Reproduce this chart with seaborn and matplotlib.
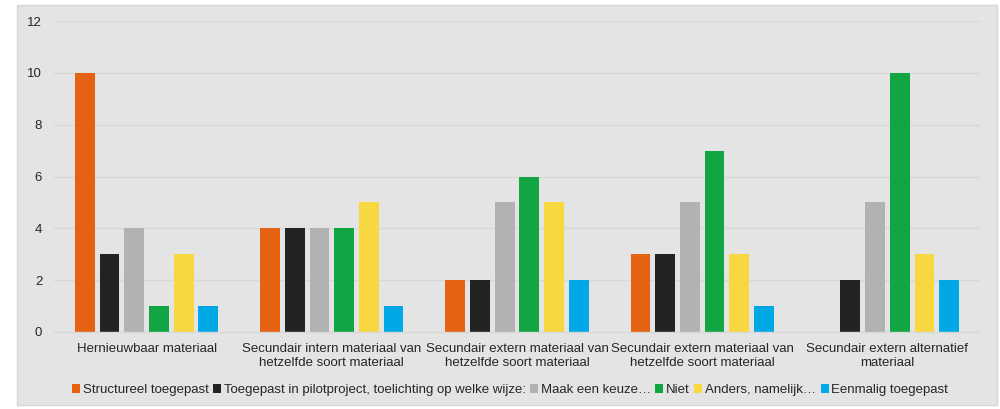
import matplotlib
matplotlib.use("Agg")
import matplotlib.pyplot as plt
import seaborn as sns
import pandas as pd
from matplotlib.patches import Rectangle

categories = [
    "Hernieuwbaar materiaal",
    "Secundair intern materiaal van\nhetzelfde soort materiaal",
    "Secundair extern materiaal van\nhetzelfde soort materiaal",
    "Secundair extern materiaal van\nhetzelfde soort materiaal",
    "Secundair extern alternatief\nmateriaal",
]
series = [
    "Structureel toegepast",
    "Toegepast in pilotproject, toelichting op welke wijze:",
    "Maak een keuze…",
    "Niet",
    "Anders, namelijk…",
    "Eenmalig toegepast",
]
structureel = [10, 4, 2, 3, 0]
pilot = [3, 4, 2, 3, 2]
keuze = [4, 4, 5, 5, 5]
niet = [1, 4, 6, 7, 10]
anders = [3, 5, 5, 3, 3]
eenmalig = [1, 1, 2, 1, 2]
colors = ["#E46212", "#222222", "#B2B2B2", "#12A544", "#F8D841", "#00A9E6"]
yticks = [0, 2, 4, 6, 8, 10, 12]

values = [structureel, pilot, keuze, niet, anders, eenmalig]
rows = []
for s, vals in zip(series, values):
    for i, v in enumerate(vals):
        rows.append({"pos": str(i), "serie": s, "value": v})
df = pd.DataFrame(rows)

sns.set_theme(style="white")
plt.rcParams["font.family"] = ["Liberation Sans", "DejaVu Sans"]

fig = plt.figure(figsize=(10, 4.09), dpi=100)
fig.patch.set_facecolor("white")
bg = Rectangle((17 / 1000, 1 - 405 / 409), 980 / 1000, 400 / 409,
               transform=fig.transFigure, facecolor="#e4e4e4",
               edgecolor="#d6d6d6", linewidth=1, zorder=-10)
fig.patches.append(bg)

ax = fig.add_axes([0.054, 1 - 332 / 409, 0.926, (332 - 21) / 409])
ax.set_facecolor("none")

sns.barplot(data=df, x="pos", y="value", hue="serie", hue_order=series,
            order=[str(i) for i in range(len(categories))],
            palette=colors, width=0.8, gap=0.2, saturation=1,
            ax=ax, legend=True, linewidth=0)

ax.set_ylim(0, 12)
ax.set_yticks(yticks)
ax.set_yticklabels([str(t) for t in yticks], fontsize=9.5, color="#262626")
ax.set_xticks(range(len(categories)))
ax.set_xticklabels(categories, fontsize=9.5, color="#262626", linespacing=1.2)
ax.set_xlim(-0.5, len(categories) - 0.5)
ax.set_xlabel("")
ax.set_ylabel("")
ax.tick_params(axis="both", length=0)
ax.tick_params(axis="y", pad=8.5)
ax.tick_params(axis="x", pad=8)
ax.grid(axis="y", color="#d8d8d8", linewidth=1)
ax.set_axisbelow(True)
for side in ["top", "right", "left"]:
    ax.spines[side].set_visible(False)
ax.spines["bottom"].set_color("#d8d8d8")
ax.spines["bottom"].set_linewidth(1)

handles, labels = ax.get_legend_handles_labels()
ax.legend(handles, labels, loc="center", bbox_to_anchor=(0.51, 1 - 390 / 409),
          bbox_transform=fig.transFigure, ncol=6, frameon=False,
          fontsize=9.5, handlelength=0.6, handleheight=0.6,
          handletextpad=0.2, columnspacing=0.35, labelcolor="#262626")

fig.savefig("out.png", dpi=100, facecolor="white")
